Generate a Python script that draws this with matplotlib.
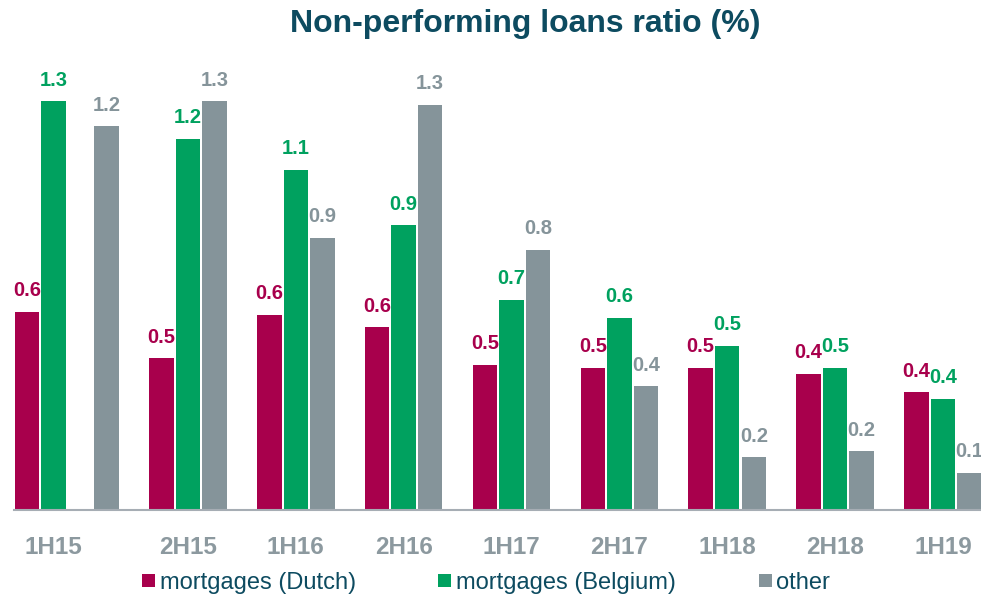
import numpy as np
import matplotlib
matplotlib.use("Agg")
import matplotlib.pyplot as plt
from matplotlib.patches import Patch

plt.rcParams['font.family'] = ['Liberation Sans', 'DejaVu Sans']

periods = ["1H15", "2H15", "1H16", "2H16", "1H17", "2H17", "1H18", "2H18", "1H19"]
dutch = [0.64, 0.49, 0.63, 0.59, 0.47, 0.46, 0.46, 0.44, 0.38]
belgium = [1.32, 1.20, 1.10, 0.92, 0.68, 0.62, 0.53, 0.46, 0.36]
other = [1.24, 1.32, 0.88, 1.31, 0.84, 0.40, 0.17, 0.19, 0.12]
series_names = ["mortgages (Dutch)", "mortgages (Belgium)", "other"]

colors = ["#a8004c", "#00a15f", "#85949a"]
title_color = "#0d4b60"
tick_color = "#8c999f"

W, H = 981, 598
fig = plt.figure(figsize=(W / 100, H / 100), dpi=100)
# axes: baseline at 510 px from top, 309.5 px per 1 %
ax = fig.add_axes([14 / W, 88 / H, 1 - 14 / W, 450 / H])
ax.set_ylim(0, 450 / 309.5)
ax.set_xlim(-0.613, 8.353)

x = np.arange(len(periods), dtype=float)
step = 0.246
width = 0.227

# the first period has its first two bars (and its label) pulled one slot left
shift = np.zeros(len(periods))
shift[0] = -step

xs = [x - step + shift, x + shift, x + step]
for vals, xpos, col in zip([dutch, belgium, other], xs, colors):
    bars = ax.bar(xpos, vals, width=width, color=col, linewidth=0)
    for b, v in zip(bars, vals):
        ax.annotate(f"{v:.1f}", (b.get_x() + b.get_width() / 2, v),
                    xytext=(0, 11.3), textcoords="offset points",
                    ha="center", va="baseline", fontsize=14.5,
                    fontweight="bold", color=col, annotation_clip=False)

ax.set_xticks(x + shift)
ax.set_xticklabels(periods, fontsize=17.5, fontweight="bold", color=tick_color)
ax.tick_params(axis="x", length=0, pad=18.5)
ax.set_yticks([])
for s in ["top", "left", "right"]:
    ax.spines[s].set_visible(False)
ax.spines["bottom"].set_color("#a6adb4")
ax.spines["bottom"].set_linewidth(1.5)

fig.text(525 / W, 1 - 32 / H, "Non-performing loans ratio (%)", ha="center",
         va="baseline", fontsize=23, fontweight="bold", color=title_color)

handles = [Patch(facecolor=c, edgecolor="none") for c in colors]
leg = fig.legend(handles, series_names, loc="center", ncol=3,
                 bbox_to_anchor=(486 / W, 1 - 583 / H), frameon=False,
                 fontsize=17, handlelength=0.55, handleheight=0.5,
                 handletextpad=0.2, columnspacing=3.5, borderaxespad=0)
for t in leg.get_texts():
    t.set_color(title_color)

plt.savefig("out.png", dpi=100)
plt.close()
